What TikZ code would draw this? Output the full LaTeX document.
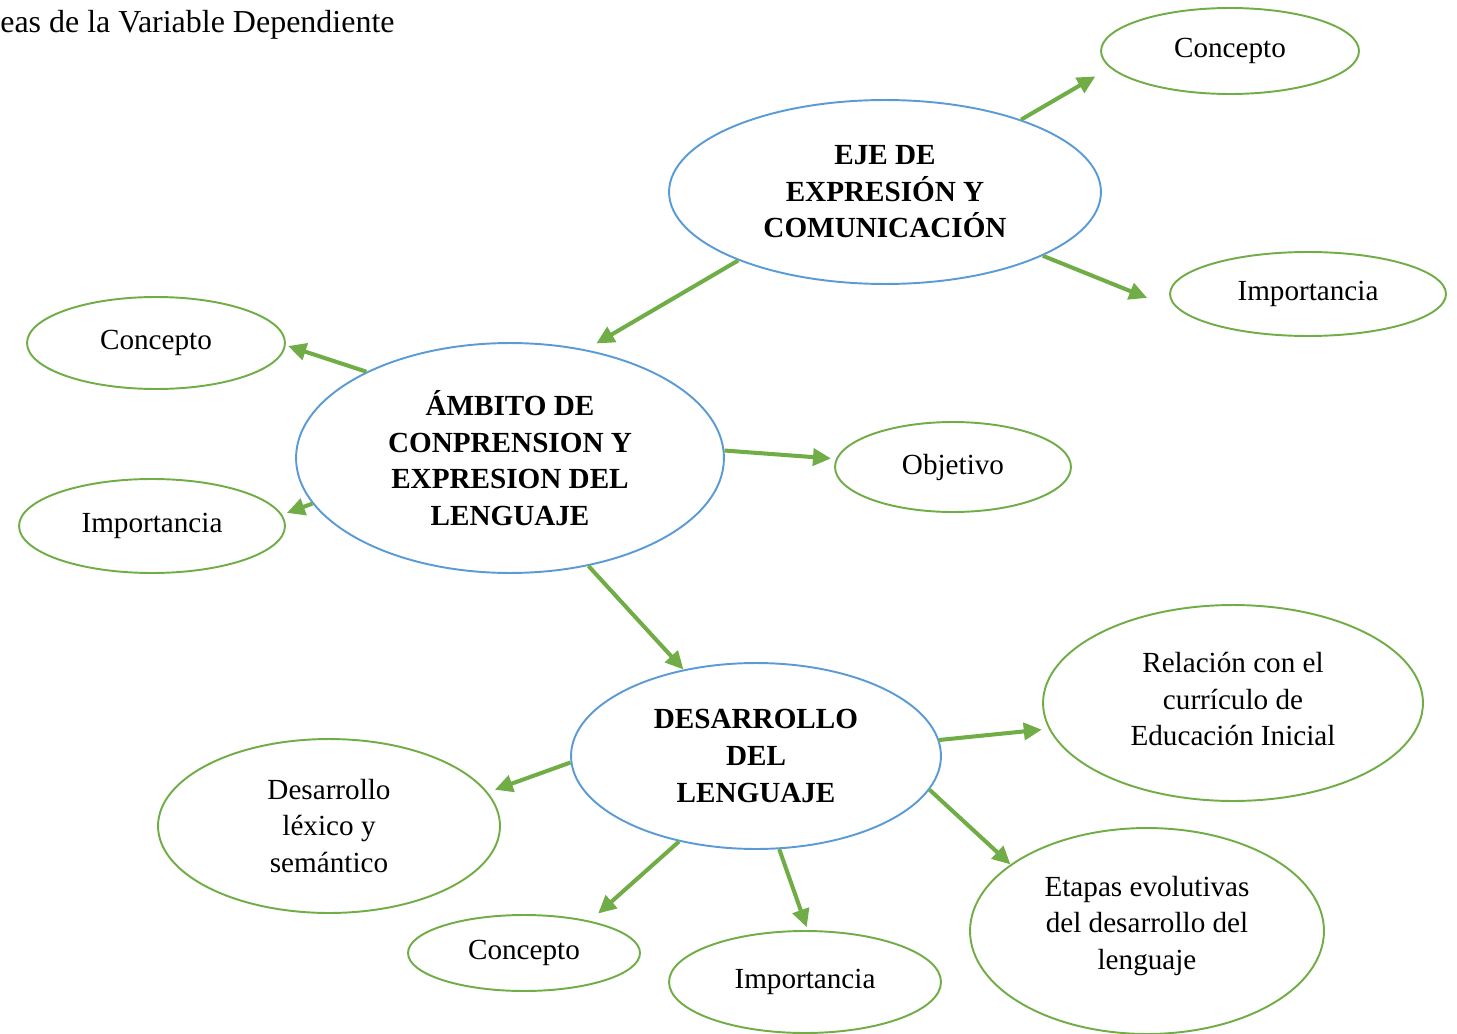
\documentclass[tikz,border=0pt]{standalone}
\usepackage{fontspec}
\setmainfont{Liberation Serif}
\usetikzlibrary{shapes.geometric,arrows.meta}
\definecolor{gr}{HTML}{70AD47}
\definecolor{bl}{HTML}{5B9BD5}
\begin{document}
\begin{tikzpicture}[x=0.02cm,y=-0.02cm,
  ov/.style={ellipse,draw,line width=1.1pt,inner sep=0pt,align=center,font=\fontsize{16.6}{20.8}\selectfont},
  mainov/.style={ov,draw=bl,font=\fontsize{16.6}{20.8}\selectfont\bfseries},
  subov/.style={ov,draw=gr},
  arr/.style={draw=gr,line width=2.3pt,-{Triangle[length=0.36cm,width=0.34cm]}}]
\useasboundingbox (0,0) rectangle (1457,1034);
\node[anchor=base west,inner sep=0pt,font=\fontsize{18.2}{22}\selectfont] (title) at (0,33) {eas de la Variable Dependiente};
% main ellipses
\node[mainov,minimum width=8.64cm,minimum height=3.68cm] (eje) at (885,192) {EJE DE\\EXPRESIÓN Y\\COMUNICACIÓN};
\node[mainov,minimum width=8.56cm,minimum height=4.6cm] (amb) at (510,458) {ÁMBITO DE\\CONPRENSION Y\\EXPRESION DEL\\LENGUAJE};
\node[mainov,minimum width=7.4cm,minimum height=3.72cm] (des) at (756,756) {DESARROLLO\\DEL\\LENGUAJE};
% sub ellipses
\node[subov,minimum width=5.16cm,minimum height=1.72cm] (c1) at (1230,51) {Concepto};
\node[subov,minimum width=5.52cm,minimum height=1.68cm] (i1) at (1308,294) {Importancia};
\node[subov,minimum width=5.16cm,minimum height=1.84cm] (c2) at (156,343) {Concepto};
\node[subov,minimum width=5.32cm,minimum height=1.88cm] (i2) at (152,526) {Importancia};
\node[subov,minimum width=4.72cm,minimum height=1.8cm] (obj) at (953,467) {Objetivo};
\node[subov,minimum width=7.6cm,minimum height=3.92cm,text depth=4.6pt] (rel) at (1233,703) {Relación con el\\currículo de\\Educación Inicial};
\node[subov,minimum width=6.84cm,minimum height=3.48cm] (lex) at (329,826) {Desarrollo\\léxico y\\semántico};
\node[subov,minimum width=4.64cm,minimum height=1.52cm] (c3) at (524,953) {Concepto};
\node[subov,minimum width=5.44cm,minimum height=2.04cm] (i3) at (805,982) {Importancia};
\node[subov,minimum width=7.08cm,minimum height=4.12cm,text depth=9.3pt] (eta) at (1147,931) {Etapas evolutivas\\del desarrollo del\\lenguaje};
% connectors
\draw[arr,shorten >=0.34cm] (eje.28.8) -- (c1.188);
\draw[arr,shorten >=0.74cm] (eje.338.4) -- (i1.188.8);
\draw[arr,shorten >=0.24cm] (eje.205.3) -- (amb.55.7);
\draw[arr,shorten >=0.05cm] (amb.149.8) -- (c2.359);
\draw[arr,shorten >=0.1cm] (amb.193.4) -- (i2.5.1);
\draw[arr,shorten >=0.1cm] (amb.2.4) -- (obj.176.3);
\draw[arr] (amb.306.5) -- (des.130.3);
\draw[arr,shorten >=0.14cm] (des.5.2) -- (rel.188.2);
\draw[arr,shorten >=0.15cm] (des.182.2) -- (lex.12);
\draw[arr,shorten >=0.22cm] (des.228.9) -- (c3.26.7);
\draw[arr,shorten >=0.06cm] (des.284.3) -- (i3.87.8);
\draw[arr] (des.349.1) -- (eta.154.9);
\end{tikzpicture}
\end{document}
